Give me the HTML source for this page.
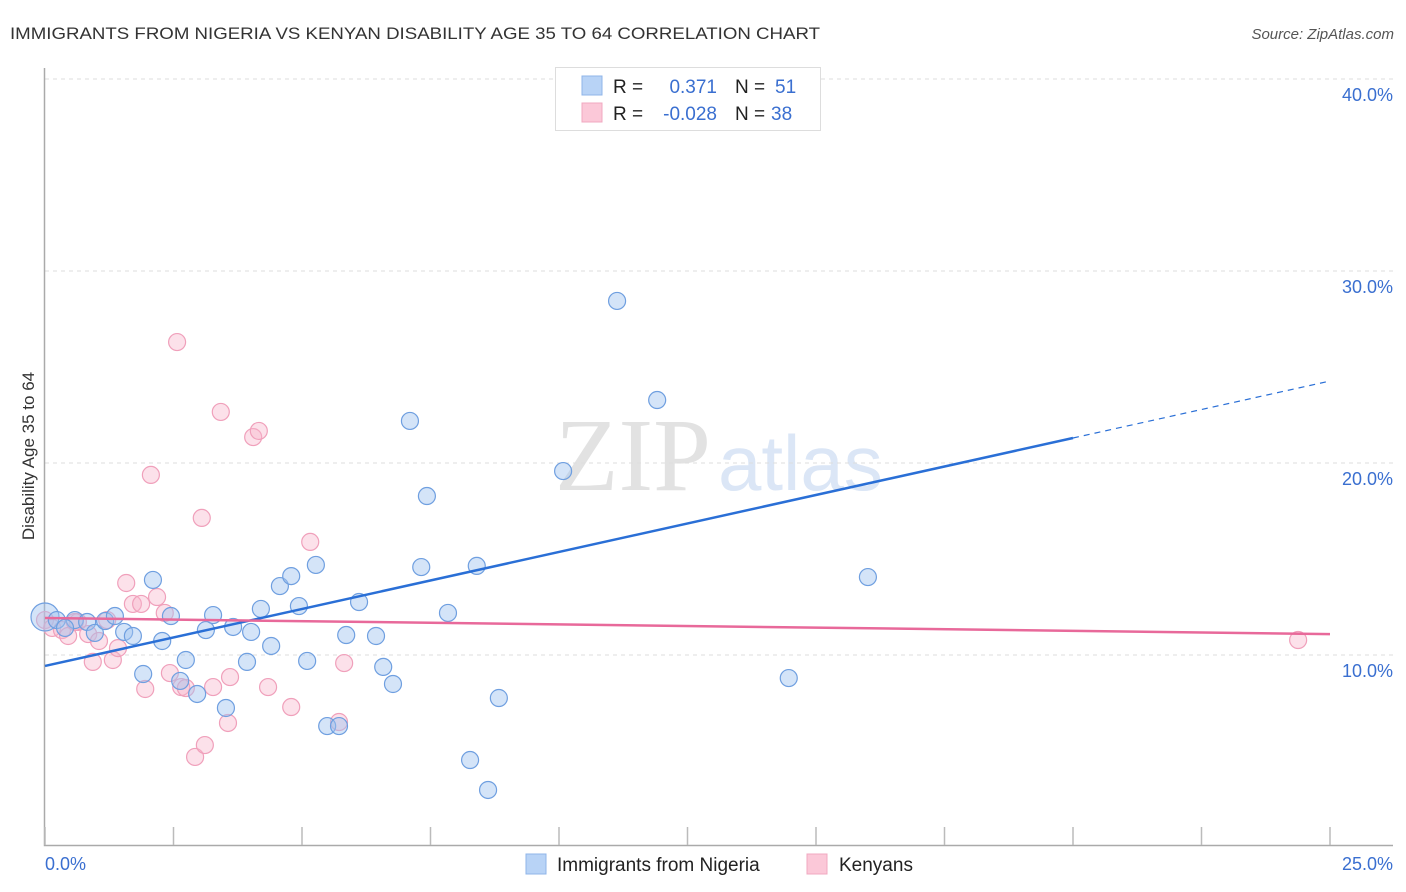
<!DOCTYPE html>
<html><head><meta charset="utf-8"><style>
body{margin:0;background:#fff;}
svg{display:block;font-family:"Liberation Sans",sans-serif;}
</style></head><body>
<svg id="chart" width="1406" height="892" viewBox="0 0 1406 892">
<text x="10" y="39" font-size="17" fill="#333" textLength="810" lengthAdjust="spacingAndGlyphs">IMMIGRANTS FROM NIGERIA VS KENYAN DISABILITY AGE 35 TO 64 CORRELATION CHART</text>
<text x="1394" y="39" font-size="15" font-style="italic" fill="#555" text-anchor="end">Source: ZipAtlas.com</text>
<g>
<text x="555" y="490" font-family="Liberation Serif,serif" font-size="104" fill="#e2e2e2">ZIP</text>
<text x="718" y="490" font-size="78" fill="#dbe6f6">atlas</text>
</g>
<g id="grid"></g>
<g id="axes"></g>
<text transform="translate(34,456) rotate(-90)" font-size="17" fill="#333" text-anchor="middle">Disability Age 35 to 64</text>
<text x="45" y="870" font-size="18" fill="#3a6fd0">0.0%</text>
<text x="1393" y="870" font-size="18" fill="#3a6fd0" text-anchor="end">25.0%</text>
<g id="pts"></g>
<g id="lines"></g>
<g>
<rect x="555.5" y="67.5" width="265" height="63" fill="#fff" stroke="#ddd"/>
<rect x="582" y="76" width="20" height="19" fill="#b8d3f6" stroke="#8fb4e8"/>
<rect x="582" y="103" width="20" height="19" fill="#fbc8d8" stroke="#f0a8c0"/>
<text x="613" y="93" font-size="19" fill="#222">R =</text>
<text x="717" y="93" font-size="19" fill="#3a6fd0" text-anchor="end">0.371</text>
<text x="735" y="93" font-size="19" fill="#222">N =</text>
<text x="775" y="93" font-size="19" fill="#3a6fd0">51</text>
<text x="613" y="120" font-size="19" fill="#222">R =</text>
<text x="717" y="120" font-size="19" fill="#3a6fd0" text-anchor="end">-0.028</text>
<text x="735" y="120" font-size="19" fill="#222">N =</text>
<text x="771" y="120" font-size="19" fill="#3a6fd0">38</text>
</g>
<g>
<rect x="526" y="854" width="20" height="20" fill="#b8d3f6" stroke="#8fb4e8"/>
<text x="557" y="871" font-size="19" fill="#222">Immigrants from Nigeria</text>
<rect x="807" y="854" width="20" height="20" fill="#fbc8d8" stroke="#f0a8c0"/>
<text x="839" y="871" font-size="19" fill="#222">Kenyans</text>
</g>
</svg>
<script>
const yTicks=[10,20,30,40];
const yTickLabels=["10.0%","20.0%","30.0%","40.0%"];
const xTicks=[0,2.5,5,7.5,10,12.5,15,17.5,20,22.5,25];
const blueX=[0,0.23,0.58,0.82,0.97,1.17,1.36,1.54,1.71,1.91,2.10,2.28,2.45,2.63,2.74,2.96,3.13,3.27,3.52,3.66,3.93,4.01,4.20,4.40,4.57,4.79,4.94,5.10,5.27,5.49,5.72,5.86,6.11,6.44,6.58,6.77,7.10,7.32,7.43,7.84,8.27,8.40,8.62,8.83,10.08,11.13,11.38,11.91,14.47,16.01,0.39];
const blueY=[11.98,11.82,11.82,11.72,11.15,11.77,12.03,11.20,10.99,9.01,13.91,10.73,12.03,8.65,9.74,7.97,11.30,12.08,7.24,11.46,9.64,11.20,12.40,10.47,13.59,14.11,12.55,9.69,14.69,6.30,6.30,11.04,12.76,10.99,9.38,8.49,22.19,14.58,18.28,12.19,4.53,14.64,2.97,7.76,19.58,28.44,39.95,23.28,8.80,14.06,11.41];
const pinkX=[0,0.14,0.33,0.45,0.64,0.84,0.93,1.05,1.21,1.32,1.42,1.58,1.71,1.87,1.95,2.18,2.33,2.43,2.57,2.65,2.74,2.92,3.05,3.11,3.27,3.42,3.56,3.60,4.05,4.16,4.34,4.79,5.16,5.72,5.82,2.06,24.38,0.58];
const pinkY=[11.82,11.41,11.30,10.99,11.72,11.09,9.64,10.73,11.82,9.74,10.36,13.75,12.66,12.66,8.23,13.02,12.19,9.06,26.30,8.33,8.28,4.69,17.14,5.31,8.33,22.66,6.46,8.85,21.35,21.67,8.33,7.29,15.89,6.51,9.58,19.38,10.78,11.72];
const blueTrend=[9.43,24.27];
const pinkTrend=[11.93,11.09];
const blueSolidEnd=20;

const NS="http://www.w3.org/2000/svg";
const sx=v=>45+v*51.4;
const sy=v=>847-v*19.2;
function mk(tag,attrs,parent){const e=document.createElementNS(NS,tag);for(const k in attrs)e.setAttribute(k,attrs[k]);parent.appendChild(e);return e;}
const grid=document.getElementById('grid'),axes=document.getElementById('axes'),pts=document.getElementById('pts'),lines=document.getElementById('lines');
yTicks.forEach((t,i)=>{
  const l=mk('line',{x1:45,x2:1393,y1:sy(t),y2:sy(t),stroke:'#ddd','stroke-dasharray':'4,4'},grid);
  
  
  const tx=mk('text',{x:1393,y:sy(t)+22,'font-size':18,fill:'#3a6fd0','text-anchor':'end'},grid);
  tx.textContent=yTickLabels[i];
  
  
});
const ax=mk('path',{d:'M44.5 68V845.5H1393',fill:'none',stroke:'#aaa','stroke-width':1.5},axes);


xTicks.forEach(t=>{
  const l=mk('line',{x1:sx(t),x2:sx(t),y1:827,y2:845,stroke:'#bbb','stroke-width':1.5},axes);
  
  
});
pinkX.forEach((x,i)=>{
  const c=mk('circle',{cx:sx(x),cy:sy(pinkY[i]),r:8.5,fill:'rgba(247,180,202,0.4)',stroke:'#f0a0bb','stroke-width':1.2},pts);
  
  
});
blueX.forEach((x,i)=>{
  const c=mk('circle',{cx:sx(x),cy:sy(blueY[i]),r:i===0?14:8.5,fill:'rgba(160,196,240,0.45)',stroke:'#6f9fe0','stroke-width':1.2},pts);
  
  
});
const by=x=>blueTrend[0]+(blueTrend[1]-blueTrend[0])*x/25;
const b1=mk('line',{x1:sx(0),y1:sy(by(0)),x2:sx(blueSolidEnd),y2:sy(by(blueSolidEnd)),stroke:'#2a6fd6','stroke-width':2.5},lines);


const b2=mk('line',{x1:sx(blueSolidEnd),y1:sy(by(blueSolidEnd)),x2:sx(25),y2:sy(by(25)),stroke:'#2a6fd6','stroke-width':1.2,'stroke-dasharray':'6,5'},lines);


const p1=mk('line',{x1:sx(0),y1:sy(pinkTrend[0]),x2:sx(25),y2:sy(pinkTrend[1]),stroke:'#e8699a','stroke-width':2.5},lines);


</script>
</body></html>
